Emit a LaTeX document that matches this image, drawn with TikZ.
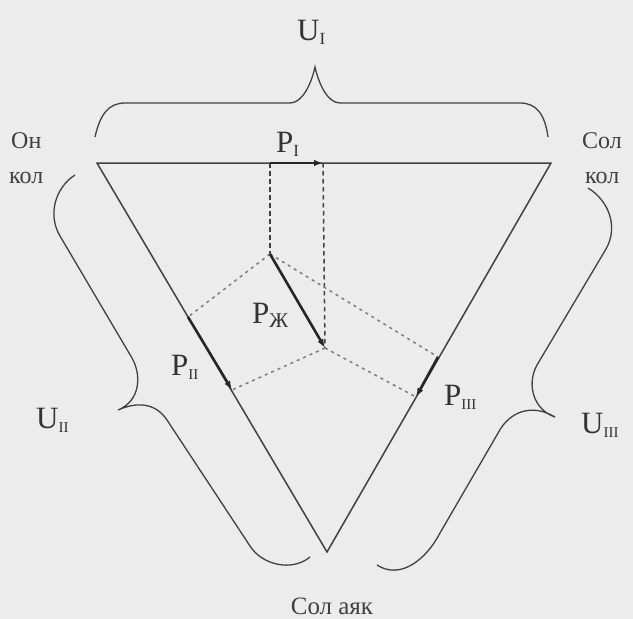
\documentclass[tikz,border=0pt]{standalone}
\usepackage{fontspec}
\setmainfont{Liberation Serif}
\usetikzlibrary{arrows.meta}
\definecolor{bgc}{RGB}{236,236,236}
\definecolor{ink}{RGB}{65,65,65}
\definecolor{dsh}{RGB}{125,125,125}
\newcommand{\rsub}[2][16]{\raisebox{-4pt}{\fontsize{#1}{#1}\selectfont #2}}
\begin{document}
\begin{tikzpicture}[x=1pt,y=-1pt,
  side/.style={draw=ink, line width=1.5pt},
  vec/.style={draw=black!85, line width=2.6pt, -{Latex[length=9pt,width=6.5pt]}},
  proj/.style={draw=dsh, line width=1.5pt, dash pattern=on 3pt off 4pt},
  vproj/.style={draw=ink, line width=1.5pt, dash pattern=on 4.5pt off 3.5pt},
  bracec/.style={draw=ink, line width=1.3pt},
  lbl/.style={inner sep=0pt, anchor=base west, font=\fontsize{31}{33}\selectfont, text=black!80},
  smalllbl/.style={inner sep=0pt, anchor=base west, font=\fontsize{24}{26}\selectfont, text=black!75}]
\fill[bgc] (0,0) rectangle (633,619);
\useasboundingbox (0,0) rectangle (633,619);
% triangle vertices
\coordinate (TL) at (97,163);
\coordinate (TR) at (551,163);
\coordinate (B) at (327,552);
% vectors
\coordinate (PIs) at (270,163);
\coordinate (PIe) at (323,163);
\coordinate (PZs) at (270,254);
\coordinate (PZe) at (325,348);
\coordinate (P2s) at (188,317);
\coordinate (P2e) at (232,390);
\coordinate (P3s) at (438,357);
\coordinate (P3e) at (416,397);
% triangle
\draw[side] (TL) -- (TR) -- (B) -- cycle;
% projections
\draw[vproj] (PIs) -- (PZs);
\draw[vproj] (PIe |- TL) -- (PZe);
\draw[proj] (PZs) -- (P2s);
\draw[proj] (PZs) -- (P3s);
\draw[proj] (PZe) -- (P2e);
\draw[proj] (PZe) -- (P3e);
% vectors
\draw[vec] (PIs) -- (PIe);
\draw[vec] (PZs) -- (PZe);
\draw[vec] (P2s) -- (P2e);
\draw[vec] (P3s) -- (P3e);
% braces
\draw[bracec] (95,137) .. controls (100,115) and (108,103) .. (125,103) -- (290,103)
  .. controls (302,103) and (311,85) .. (315,67)
  .. controls (319,85) and (328,103) .. (340,103) -- (520,103)
  .. controls (537,103) and (545,115) .. (548,137);
\draw[bracec] (75,175) .. controls (56,187) and (47,214) .. (60,236) -- (132,358)
  .. controls (142,376) and (140,401) .. (118,410)
  .. controls (136,402) and (155,402) .. (167,420) -- (250,546)
  .. controls (262,565) and (292,572) .. (310,557);
\draw[bracec] (588,188) .. controls (608,200) and (619,226) .. (606,249) -- (537,365)
  .. controls (526,385) and (534,410) .. (555,417)
  .. controls (535,405) and (514,409) .. (501,428) -- (440,533)
  .. controls (426,560) and (400,580) .. (377,565);
% labels
\node[lbl] (UI) at (297,40) {U\rsub[17]{I}};
\node[lbl] (PI) at (276,152) {P\rsub[17]{I}};
\node[lbl] (PZ) at (252,323) {P\rsub[21]{Ж}};
\node[lbl] (PII) at (171,375) {P\rsub[15]{II}};
\node[lbl] (PIII) at (444,405) {P\rsub[15]{III}};
\node[lbl] (UII) at (36,428) {U\rsub[15]{II}};
\node[lbl] (UIII) at (581,433) {U\rsub[15]{III}};
\node[smalllbl] (on) at (11,148) {Он};
\node[smalllbl] (kol1) at (9,183) {кол};
\node[smalllbl] (sol) at (582,148) {Сол};
\node[smalllbl] (kol2) at (585,183) {кол};
\node[smalllbl, anchor=base, font=\fontsize{25}{27}\selectfont] (solayak) at (332,614) {Сол аяк};
\end{tikzpicture}
\end{document}
